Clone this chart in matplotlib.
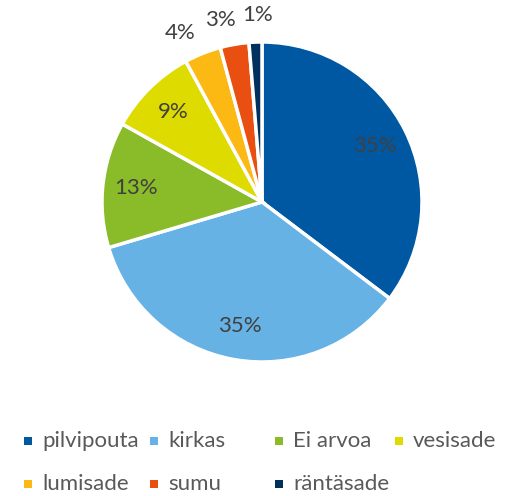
import matplotlib.pyplot as plt
import numpy as np
from matplotlib.patches import Rectangle

plt.rcParams['font.family'] = ['Lato', 'DejaVu Sans']

categories = ["pilvipouta", "kirkas", "Ei arvoa", "vesisade", "lumisade", "sumu", "räntäsade"]
shares = [35.3, 35.1, 12.7, 9.0, 3.7, 2.9, 1.3]
labels = ["35%", "35%", "13%", "9%", "4%", "3%", "1%"]
colors = ["#0058A3", "#66B2E4", "#8ABB28", "#DEDB00", "#FCB813", "#E84F10", "#00305E"]

W, H = 509, 496
fig = plt.figure(figsize=(W / 100, H / 100), dpi=100)

# pie centre (262, 202) px from top-left, radius 158 px
cx, cy, r = 262, 202, 158
half = 200
ax = fig.add_axes([(cx - half) / W, (H - cy - half) / H, 2 * half / W, 2 * half / H])
ax.set_xlim(-half / r, half / r)
ax.set_ylim(-half / r, half / r)
ax.set_aspect("equal")
ax.axis("off")

wedges, _ = ax.pie(shares, colors=colors, startangle=90, counterclock=False,
                   radius=1.0, wedgeprops=dict(edgecolor="white", linewidth=2.5))

# data labels: inside for big slices, outside (spread a bit) for the small ones
nudge = [0, 0, 0, 0, 4, 3, -1]
total = sum(shares)
cum = 0.0
for share, lab, dn in zip(shares, labels, nudge):
    mid = 90 - 360 * (cum + share / 2) / total + dn
    cum += share
    dist = 0.79 if share > 5 else 1.17
    th = np.deg2rad(mid)
    ax.text(dist * np.cos(th), dist * np.sin(th), lab, ha="center", va="center",
            fontsize=16, color="#404040")

# legend in two rows, equal column spacing like Excel
col_x = [28, 154, 279, 399]
row_y = [441, 484]
for i, (name, col) in enumerate(zip(categories, colors)):
    rr, cc = divmod(i, 4)
    x, y = col_x[cc], row_y[rr]
    fig.patches.append(Rectangle(((x - 4) / W, (H - y - 4) / H), 8 / W, 8 / H,
                                 transform=fig.transFigure, facecolor=col,
                                 edgecolor="none"))
    fig.text((x + 14) / W, (H - y) / H, name, ha="left", va="center",
             fontsize=16, color="#595959")

fig.savefig("out.png", dpi=100)
